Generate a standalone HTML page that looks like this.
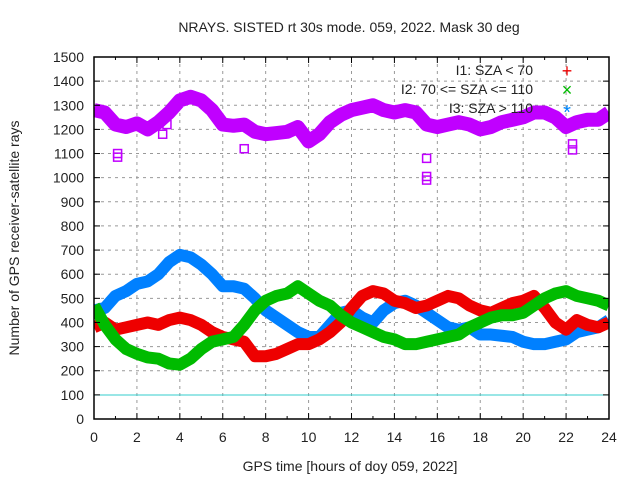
<!DOCTYPE html>
<html><head><meta charset="utf-8"><style>
body{margin:0;background:#fff}
svg text{font-family:"Liberation Sans",sans-serif;font-size:14px;fill:#222}
</style></head><body>
<svg width="640" height="480">
<defs><clipPath id="pc"><rect x="94" y="57" width="515" height="362"/></clipPath></defs>
<rect width="640" height="480" fill="#fff"/>
<g id="grid"></g>
<line x1="94" x2="609" y1="395" y2="395" stroke="#33cccc" stroke-width="1"/>
<g id="series" clip-path="url(#pc)"></g>
<rect x="94" y="57" width="515" height="362" fill="none" stroke="#000" stroke-width="1.5"/>
<g id="axes"></g>
<text x="349" y="32" text-anchor="middle">NRAYS. SISTED rt 30s mode. 059, 2022. Mask 30 deg</text>
<text x="350" y="471" text-anchor="middle">GPS time [hours of doy 059, 2022]</text>
<text transform="translate(19,238) rotate(-90)" text-anchor="middle">Number of GPS receiver-satellite rays</text>
<g>
<text x="533" y="75" text-anchor="end">I1: SZA &lt; 70</text>
<text x="567" y="77" text-anchor="middle" style="fill:#e00;font-size:18px">+</text>
<text x="533" y="94" text-anchor="end">I2: 70 &lt;= SZA &lt;= 110</text>
<text x="567" y="96" text-anchor="middle" style="fill:#0b0;font-size:18px">×</text>
<text x="533" y="113" text-anchor="end">I3: SZA &gt; 110</text>
<text x="567" y="119" text-anchor="middle" style="fill:#08f;font-size:20px">*</text>
</g>
</svg>
<script>
const hours=[];for(let i=0;i<=48;i++)hours.push(i*0.5);
const allRays=[1280,1270,1220,1210,1225,1200,1230,1270,1320,1335,1320,1280,1220,1215,1220,1190,1180,1185,1190,1210,1150,1180,1230,1260,1280,1290,1300,1280,1270,1280,1270,1220,1210,1220,1230,1220,1200,1210,1230,1240,1250,1270,1270,1250,1210,1230,1240,1240,1270];
const i3Rays=[450,460,510,530,560,570,600,650,680,670,640,600,550,550,540,500,450,420,390,360,340,340,390,440,450,420,400,450,480,490,470,440,410,380,370,380,350,350,345,340,320,310,310,320,330,360,370,380,410];
const i1Rays=[380,400,370,380,390,400,390,410,420,410,390,360,340,330,320,260,260,270,290,310,310,330,360,400,460,510,530,520,490,480,460,470,490,510,500,470,450,440,460,480,490,510,460,400,370,410,390,380,400];
const i2Rays=[470,390,330,290,270,255,250,230,225,250,290,320,330,340,390,450,490,510,520,550,520,490,470,430,400,380,360,340,330,310,310,320,330,340,350,380,400,420,430,430,440,470,500,520,530,510,500,490,470];
const yTicks=[0,100,200,300,400,500,600,700,800,900,1000,1100,1200,1300,1400,1500];
const xTicks=[0,2,4,6,8,10,12,14,16,18,20,22,24];
const outH=[1.1,1.1,3.2,3.4,7.0,15.5,15.5,15.5,22.3,22.3];
const outV=[1100,1085,1180,1220,1120,1080,1005,990,1140,1115];
const X=h=>94+h*515/24, Y=v=>419-v*362/1500;
const NS='http://www.w3.org/2000/svg';
const grid=document.getElementById('grid'),axes=document.getElementById('axes'),ser=document.getElementById('series');
function mk(tag,attrs,parent){const e=document.createElementNS(NS,tag);for(const k in attrs)e.setAttribute(k,attrs[k]);parent.appendChild(e);return e;}
yTicks.forEach(v=>{
 if(v>0&&v<1500&&v!==100){const l=mk('line',{x1:94,x2:609,y1:Y(v),y2:Y(v),stroke:'#999','stroke-dasharray':'3,4'},grid);
 
 }
 const t=mk('text',{x:84,y:Y(v)+5,'text-anchor':'end'},axes);t.textContent=v;
 
 
 mk('line',{x1:94,x2:100,y1:Y(v),y2:Y(v),stroke:'#000'},axes);
 mk('line',{x1:603,x2:609,y1:Y(v),y2:Y(v),stroke:'#000'},axes);
});
xTicks.forEach(h=>{
 if(h>0&&h<24){const l=mk('line',{x1:X(h),x2:X(h),y1:57,y2:419,stroke:'#999','stroke-dasharray':'3,4'},grid);
 
 }
 const t=mk('text',{x:X(h),y:442,'text-anchor':'middle'},axes);t.textContent=h;
 
 
 mk('line',{x1:X(h),x2:X(h),y1:419,y2:413,stroke:'#000'},axes);
 mk('line',{x1:X(h),x2:X(h),y1:57,y2:63,stroke:'#000'},axes);
 if(h<24){mk('line',{x1:X(h+1),x2:X(h+1),y1:419,y2:416,stroke:'#000'},axes);mk('line',{x1:X(h+1),x2:X(h+1),y1:57,y2:60,stroke:'#000'},axes);}
});
function line(vals,color,name,w){
 const p=mk('polyline',{points:vals.map((v,i)=>X(hours[i])+','+Y(v)).join(' '),fill:'none',stroke:color,'stroke-width':w,'stroke-linejoin':'round','stroke-linecap':'butt'},ser);
 
 
}
line(allRays,'#c000ff','series-all',14);
line(i3Rays,'#0080ff','series-i3',12);
line(i1Rays,'#ee0000','series-i1',12);
line(i2Rays,'#00bb00','series-i2',12);
outH.forEach((h,i)=>{
 const r=mk('rect',{x:X(h)-4,y:Y(outV[i])-4,width:8,height:8,fill:'none',stroke:'#c000ff','stroke-width':1.5},ser);
 
 
});
</script>
</body></html>
